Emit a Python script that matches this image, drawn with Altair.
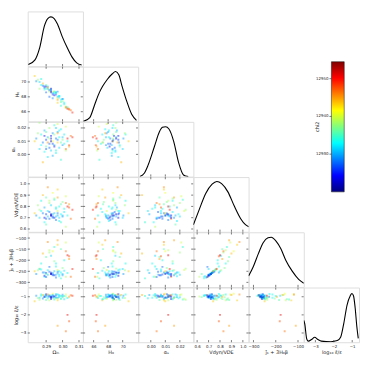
import altair as alt
import pandas as pd

# ---------------- sample values ----------------
om = [0.284, 0.286, 0.287, 0.288, 0.289, 0.289, 0.290, 0.290, 0.291, 0.291,
      0.292, 0.292, 0.293, 0.293, 0.294, 0.294, 0.295, 0.295, 0.296, 0.296,
      0.297, 0.297, 0.298, 0.298, 0.299, 0.299, 0.300, 0.300, 0.301, 0.302,
      0.302, 0.303, 0.304, 0.305, 0.286, 0.288, 0.290, 0.292, 0.293, 0.294,
      0.295, 0.296, 0.297, 0.298, 0.299, 0.300, 0.291, 0.289, 0.287, 0.285,
      0.294, 0.296, 0.301, 0.292, 0.290, 0.297, 0.293, 0.295, 0.303, 0.304,
      0.297, 0.302, 0.283, 0.306]
h0 = [70.1, 70.0, 70.4, 69.5, 69.0, 69.2, 69.4, 69.6, 69.1, 69.4,
      69.0, 68.0, 68.8, 69.0, 68.7, 67.8, 68.5, 68.7, 68.3, 68.5,
      68.0, 67.2, 67.9, 68.1, 67.6, 66.8, 67.4, 67.7, 67.2, 66.5,
      66.7, 66.6, 66.4, 66.2, 69.1, 69.8, 69.1, 68.9, 69.1, 68.3,
      68.7, 68.6, 68.7, 68.1, 67.3, 67.7, 69.3, 69.4, 69.6, 70.3,
      68.5, 68.6, 67.0, 68.7, 68.6, 67.8, 68.6, 68.2, 66.4, 66.3,
      67.6, 66.6, 70.8, 65.9]
a_s = [0.012, 0.004, 0.015, 0.009, 0.002, 0.018, 0.011, 0.006, 0.013, -0.002,
       0.020, 0.008, 0.014, 0.003, 0.010, 0.016, 0.007, 0.022, 0.012, 0.001,
       0.017, 0.009, 0.005, 0.013, 0.019, -0.004, 0.011, 0.007, 0.015, 0.003,
       0.021, 0.010, 0.006, 0.014, 0.024, -0.006, 0.017, 0.005, 0.012, 0.008,
       0.015, 0.003, 0.011, 0.018, 0.009, 0.013, 0.009, 0.014, 0.007, 0.016,
       -0.001, 0.020, 0.008, 0.012, 0.004, 0.023, 0.010, 0.006, 0.012, 0.007,
       0.016, 0.004, 0.010, 0.013]
vdyn = [0.72, 0.70, 0.85, 0.74, 0.66, 0.79, 0.73, 0.88, 0.71, 0.76,
        0.83, 0.69, 0.72, 0.81, 0.92, 0.70, 0.74, 0.86, 0.68, 0.78,
        0.72, 0.95, 0.70, 0.80, 0.73, 0.66, 0.84, 0.71, 0.75, 0.62,
        0.89, 0.72, 0.82, 0.69, 0.77, 0.90, 0.64, 0.75, 0.73, 0.71,
        0.87, 0.79, 0.74, 0.67, 0.82, 0.72, 0.97, 0.70, 0.76, 0.81,
        0.73, 0.71, 0.78, 0.85, 0.69, 0.76, 0.72, 0.70, 0.80, 0.79,
        0.88, 0.83, 0.74, 0.77]
jcomb = [-262, -240, -215, -255, -275, -255, -258, -185, -266, -245,
         -165, -230, -262, -180, -160, -268, -250, -140, -278, -215,
         -260, -130, -265, -250, -255, -282, -235, -268, -248, -275,
         -120, -258, -195, -275, -238, -170, -262, -252, -256, -264,
         -205, -228, -252, -272, -150, -262, -118, -270, -242, -245,
         -258, -266, -200, -155, -276, -244, -262, -268, -178, -182,
         -110, -160, -250, -240]
lgr = [-0.95, -1.05, -0.88, -1.10, -0.92, -1.02, -0.86, -1.18, -0.97, -1.08,
       -0.90, -1.00, -1.12, -0.94, -0.84, -1.04, -0.99, -1.15, -0.91, -1.06,
       -0.88, -1.20, -1.01, -0.93, -1.09, -0.96, -1.03, -0.89, -1.14, -0.98,
       -0.87, -1.07, -1.00, -0.92, -1.16, -0.90, -1.02, -0.95, -1.01, -0.97,
       -1.10, -0.85, -1.05, -0.92, -1.13, -0.99, -0.88, -1.00, -0.94, -1.07,
       -0.90, -1.03, -0.96, -1.19, -0.93, -1.11, -1.04, -0.98, -2.00, -2.35,
       -2.60, -2.90, -1.25, -0.95]
chi2 = [12928, 12931, 12934, 12927, 12933, 12929, 12925, 12936, 12930, 12932,
        12938, 12926, 12924, 12931, 12941, 12928, 12930, 12935, 12927, 12933,
        12929, 12944, 12931, 12934, 12933, 12935, 12937, 12928, 12932, 12939,
        12940, 12934, 12946, 12948, 12938, 12945, 12936, 12926, 12923, 12925,
        12937, 12934, 12927, 12932, 12936, 12930, 12947, 12924, 12933, 12938,
        12929, 12931, 12934, 12939, 12926, 12940, 12922, 12924, 12951, 12949,
        12946, 12948, 12944, 12950]

# ---------------- 1-D marginal curves ----------------
om_kde_x = [0.2792, 0.2831, 0.2861, 0.2890, 0.2910, 0.2929, 0.2949, 0.2969, 0.2998, 0.3028, 0.3057, 0.3086, 0.3116]
om_kde_y = [0.03, 0.11, 0.34, 0.74, 0.87, 0.90, 0.87, 0.77, 0.54, 0.34, 0.17, 0.06, 0.02]
h0_kde_x = [64.6, 65.47, 66.13, 66.8, 67.24, 67.9, 68.58, 69.02, 69.47, 69.9, 70.58, 71.24, 71.9]
h0_kde_y = [0.0, 0.07, 0.30, 0.53, 0.64, 0.77, 0.87, 0.91, 0.85, 0.65, 0.36, 0.13, 0.02]
as_kde_x = [-0.0075, -0.0045, -0.002, 0.0025, 0.0058, 0.008, 0.0102, 0.0125, 0.0158, 0.0191, 0.0225, 0.0258]
as_kde_y = [0.0, 0.06, 0.2, 0.55, 0.81, 0.9, 0.91, 0.87, 0.64, 0.26, 0.03, 0.0]
v_kde_x = [0.567, 0.619, 0.675, 0.731, 0.7725, 0.814, 0.869, 0.925, 0.981, 1.0225, 1.0525]
v_kde_y = [0.13, 0.41, 0.70, 0.87, 0.92, 0.88, 0.73, 0.47, 0.24, 0.13, 0.09]
j_kde_x = [-322, -300, -278, -256.5, -234.8, -220.4, -198.7, -177, -155, -126, -97, -74]
j_kde_y = [0.20, 0.38, 0.61, 0.81, 0.90, 0.91, 0.84, 0.70, 0.49, 0.29, 0.14, 0.07]
lg_kde_x = [-3.63, -3.58, -3.47, -3.38, -3.21, -3.04, -2.86, -2.68, -2.16, -1.81, -1.63,
            -1.46, -1.28, -1.105, -1.016, -0.93, -0.84, -0.75, -0.67]
lg_kde_y = [0.40, 0.34, 0.06, 0.02, 0.05, 0.09, 0.05, 0.02, 0.01, 0.03, 0.09,
            0.34, 0.68, 0.85, 0.89, 0.85, 0.63, 0.29, 0.07]

# ---------------- labels / ticks ----------------
names = ["om", "h0", "as", "v", "j", "lg"]
titles = ["Ωₘ", "H₀", "αₛ", "Vdyn/VDE", "ĵ₁ + 3H₀β", "log₁₀ ε̃/ε"]
xticks = {"om": [0.29, 0.30, 0.31], "h0": [66, 68, 70], "as": [0.00, 0.01, 0.02],
          "v": [0.6, 0.7, 0.8, 0.9, 1.0], "j": [-300, -200, -100], "lg": [-3, -2, -1]}
yticks = {"h0": [66, 68, 70], "as": [0.00, 0.01, 0.02], "v": [0.6, 0.7, 0.8, 0.9, 1.0],
          "j": [-300, -250, -200, -150, -100], "lg": [-3, -2, -1]}
fmts = {"om": ".2f", "h0": "d", "as": ".2f", "v": ".1f", "j": "d", "lg": "d"}
xdom = {"om": [0.2788, 0.3124], "h0": [64.53, 72.13], "as": [-0.0087, 0.0293],
        "v": [0.567, 1.05], "j": [-322, -74], "lg": [-3.63, -0.63]}
ydom = {"h0": [64.7, 72.06], "as": [-0.0168, 0.0246], "v": [0.575, 1.06],
        "j": [-321, -74], "lg": [-3.51, -0.49]}
cb_ticks = [12930, 12940, 12950]
chi_lo, chi_hi = 12920.0, 12954.5

kdes = {"om": (om_kde_x, om_kde_y), "h0": (h0_kde_x, h0_kde_y), "as": (as_kde_x, as_kde_y),
        "v": (v_kde_x, v_kde_y), "j": (j_kde_x, j_kde_y), "lg": (lg_kde_x, lg_kde_y)}

df = pd.DataFrame({"om": om, "h0": h0, "as": a_s, "v": vdyn, "j": jcomb, "lg": lgr, "chi2": chi2})

W, H = 56, 55.5
TK = 2.2
FONT = "DejaVu Sans"
TICKCOL = "#222222"
TXT = "#222222"

jet = ["#000080", "#0000ff", "#00ffff", "#80ff80", "#ffff00", "#ff0000", "#800000"]
jet_t = [0, 0.125, 0.375, 0.5, 0.625, 0.875, 1.0]
color_scale = alt.Scale(domain=[chi_lo + t * (chi_hi - chi_lo) for t in jet_t], range=jet)


def make_axis(v, tick_list):
    return alt.Axis(title=titles[names.index(v)], values=tick_list, format=fmts[v], ticks=False,
                    domain=False, grid=False, labelFontSize=4, titleFontSize=5, labelPadding=2,
                    titlePadding=1.5, labelFlush=False, labelOverlap=False, labelFont=FONT,
                    titleFont=FONT, titleFontWeight="normal", labelColor=TXT, titleColor=TXT)


def xaxis(v, show):
    return make_axis(v, xticks[v]) if show else None


def yaxis(v, show):
    return make_axis(v, yticks[v]) if show else None


def xtick_layers(v, xs, both, ax):
    d = pd.DataFrame({"t": xticks[v]})
    base = alt.Chart(d).mark_rule(color=TICKCOL, strokeWidth=0.6)
    out = [base.encode(x=alt.X("t:Q", scale=xs, axis=ax), y=alt.value(H), y2=alt.value(H - TK))]
    if both:
        out.append(base.encode(x=alt.X("t:Q", scale=xs, axis=ax), y=alt.value(0), y2=alt.value(TK)))
    return out


def ytick_layers(v, ys, ax):
    d = pd.DataFrame({"t": yticks[v]})
    base = alt.Chart(d).mark_rule(color=TICKCOL, strokeWidth=0.6)
    return [base.encode(y=alt.Y("t:Q", scale=ys, axis=ax), x=alt.value(0), x2=alt.value(TK)),
            base.encode(y=alt.Y("t:Q", scale=ys, axis=ax), x=alt.value(W), x2=alt.value(W - TK))]


def scatter(i, j):
    xv, yv = names[j], names[i]
    xs = alt.Scale(domain=xdom[xv], nice=False, zero=False)
    ys = alt.Scale(domain=ydom[yv], nice=False, zero=False)
    xa, ya = xaxis(xv, i == 5), yaxis(yv, j == 0)
    pts = alt.Chart(df).mark_square(size=4, opacity=0.45, clip=True).encode(
        x=alt.X(f"{xv}:Q", scale=xs, axis=xa),
        y=alt.Y(f"{yv}:Q", scale=ys, axis=ya),
        color=alt.Color("chi2:Q", scale=color_scale, legend=None),
    )
    return alt.layer(pts, *xtick_layers(xv, xs, True, xa), *ytick_layers(yv, ys, ya)).properties(width=W, height=H)


def diag(i):
    v = names[i]
    kx, ky = kdes[v]
    d = pd.DataFrame({"x": kx, "d": ky})
    xs = alt.Scale(domain=xdom[v], nice=False, zero=False)
    xa = xaxis(v, i == 5)
    line = alt.Chart(d).mark_line(color="black", strokeWidth=1.1, interpolate="monotone", clip=True).encode(
        x=alt.X("x:Q", scale=xs, axis=xa),
        y=alt.Y("d:Q", scale=alt.Scale(domain=[0, 1], nice=False), axis=None),
    )
    return alt.layer(line, *xtick_layers(v, xs, False, xa)).properties(width=W, height=H)


def blank():
    # an empty cell: one invisible, zero-size point in the middle, no axes, no frame
    return alt.Chart(pd.DataFrame({"a": [0]})).mark_point(opacity=0, size=0).encode(
        x=alt.value(W / 2), y=alt.value(H / 2)
    ).properties(width=W, height=H, view=alt.ViewBackground(stroke="transparent"))


# ---------------- colour bar (drawn through its own chi2 scale) ----------------
CBX0, CBX1 = 28, 41
cb_scale = alt.Scale(domain=[chi_lo, chi_hi], range=[183, 51], nice=False, zero=False)
grad = alt.Gradient(gradient="linear", x1=0, x2=0, y1=1, y2=0,
                    stops=[alt.GradientStop(offset=t, color=c) for t, c in zip(jet_t, jet)])
cb_bar = alt.Chart(pd.DataFrame({"lo": [chi_lo], "hi": [chi_hi]})).mark_rect(
    color=grad, stroke="#111", strokeWidth=0.5).encode(
    y=alt.Y("lo:Q", scale=cb_scale, axis=None), y2="hi:Q",
    x=alt.value(CBX0), x2=alt.value(CBX1))
tk_df = pd.DataFrame({"t": cb_ticks, "lab": [str(t) for t in cb_ticks]})
cb_ticks_l = alt.Chart(tk_df).mark_rule(color=TICKCOL, strokeWidth=0.6).encode(
    y=alt.Y("t:Q", scale=cb_scale, axis=None), x=alt.value(CBX0 - 2), x2=alt.value(CBX0))
cb_labels = alt.Chart(tk_df).mark_text(align="right", baseline="middle", fontSize=4, font=FONT,
                                       color=TXT).encode(
    y=alt.Y("t:Q", scale=cb_scale, axis=None), x=alt.value(CBX0 - 3), text="lab:N")
cb_title = alt.Chart(pd.DataFrame({"t": [(chi_lo + chi_hi) / 2], "lab": ["chi2"]})).mark_text(
    angle=270, align="center", baseline="middle", fontSize=5, font=FONT, color=TXT).encode(
    y=alt.Y("t:Q", scale=cb_scale, axis=None), x=alt.value(CBX0 - 15), text="lab:N")
colorbar = alt.layer(cb_bar, cb_ticks_l, cb_labels, cb_title).properties(
    width=W, height=H, view=alt.ViewBackground(stroke="transparent"))

cells = []
for i in range(6):
    for j in range(6):
        if j < i:
            cells.append(scatter(i, j))
        elif j == i:
            cells.append(diag(i))
        elif i == 0 and j == 5:
            cells.append(colorbar)
        else:
            cells.append(blank())

chart = alt.concat(*cells, columns=6, spacing=0, bounds="flush",
                   padding={"left": 0, "top": 0, "right": 0, "bottom": 0}
                   ).configure_view(stroke="#444444", strokeWidth=1.3
                   ).configure(font=FONT, background="white")

chart.save("out.html", embed_options={"renderer": "svg", "actions": False})
